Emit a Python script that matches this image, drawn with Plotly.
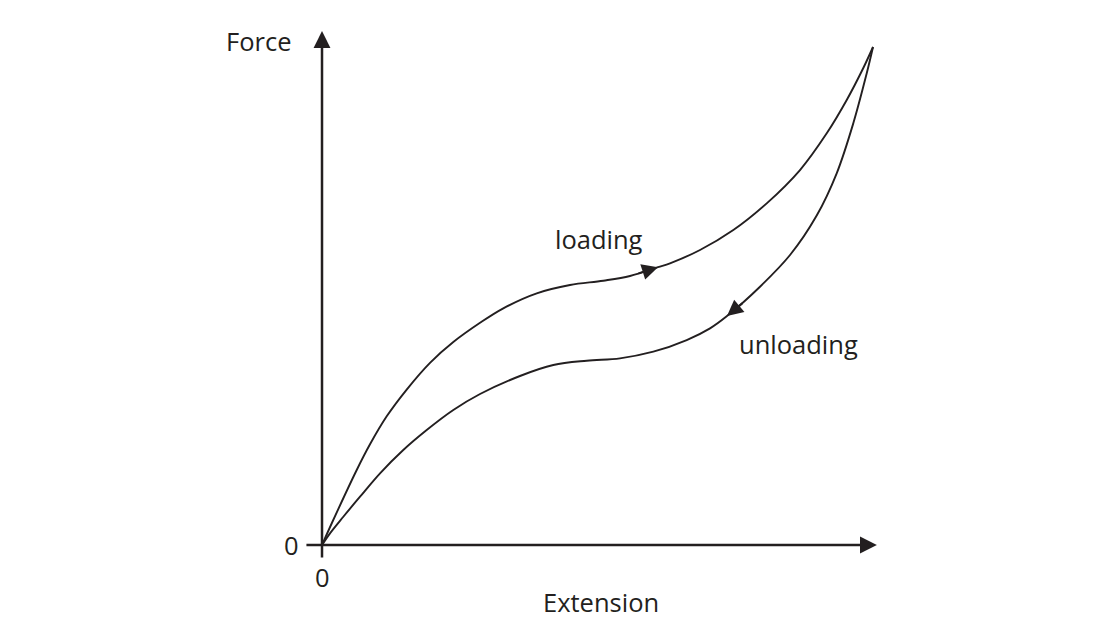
import plotly.graph_objects as go

# ---- data (Extension, Force in arbitrary units) ----
loading_x = [0.0, 0.20, 0.63, 0.871, 1.174, 1.537, 1.960, 2.383, 2.868, 3.290, 3.897, 4.501,
             5.105, 5.590, 6.098, 6.316, 6.860, 7.465, 8.071, 8.675, 9.160, 9.523, 9.824, 10.0]
loading_y = [0.0, 0.492, 1.506, 2.022, 2.584, 3.122, 3.659, 4.076, 4.462, 4.753, 5.054, 5.221,
             5.307, 5.402, 5.580, 5.657, 5.924, 6.325, 6.861, 7.530, 8.267, 8.936, 9.578, 10.0]

unloading_x = [10.0, 9.886, 9.642, 9.341, 8.978, 8.494, 7.949, 7.350, 7.042, 6.619, 6.013, 5.408,
               4.804, 4.198, 3.593, 2.868, 2.383, 1.900, 1.475, 1.053, 0.690, 0.387, 0.145, 0.0]
unloading_y = [10.0, 9.472, 8.468, 7.464, 6.616, 5.823, 5.187, 4.598, 4.351, 4.116, 3.882, 3.749,
               3.701, 3.614, 3.394, 3.032, 2.711, 2.309, 1.908, 1.440, 0.970, 0.568, 0.235, 0.0]

loading_arrow_idx = 14
unloading_arrow_idx = 7

x_tick_labels = ["0"]
y_tick_labels = ["0"]
x_title = "Extension"
y_title = "Force"
loading_label = "loading"
unloading_label = "unloading"

INK = "#231f20"
FONT = "Open Sans"

fig = go.Figure()

for xs, ys in ((loading_x, loading_y), (unloading_x, unloading_y)):
    fig.add_trace(go.Scatter(x=xs, y=ys, mode="lines",
                             line=dict(color=INK, width=1.9, shape="spline", smoothing=1.0),
                             hoverinfo="skip", showlegend=False))

# axes drawn as arrows
fig.add_annotation(x=10.07, y=0, ax=-0.31, ay=0, xref="x", yref="y", axref="x", ayref="y",
                   text="", showarrow=True, arrowhead=2, arrowsize=1.35, arrowwidth=2.5, arrowcolor=INK)
fig.add_annotation(x=0, y=10.32, ax=0, ay=-0.28, xref="x", yref="y", axref="x", ayref="y",
                   text="", showarrow=True, arrowhead=2, arrowsize=1.35, arrowwidth=2.5, arrowcolor=INK)

# direction arrows on the curves
fig.add_annotation(x=loading_x[loading_arrow_idx], y=loading_y[loading_arrow_idx],
                   ax=-21, ay=6.7, text="", showarrow=True, arrowhead=2,
                   arrowsize=1.6, arrowwidth=2, arrowcolor=INK)
fig.add_annotation(x=unloading_x[unloading_arrow_idx], y=unloading_y[unloading_arrow_idx],
                   ax=16.9, ay=-14.1, text="", showarrow=True, arrowhead=2,
                   arrowsize=1.6, arrowwidth=2, arrowcolor=INK)

txt = dict(family=FONT, size=25.5, color=INK)
fig.add_annotation(x=-0.53, y=10.12, text=y_title, showarrow=False, xanchor="right", yanchor="middle", font=txt)
fig.add_annotation(x=-0.55, y=0.0, text=y_tick_labels[0], showarrow=False, xanchor="center", yanchor="middle", font=txt)
fig.add_annotation(x=0.0, y=-0.64, text=x_tick_labels[0], showarrow=False, xanchor="center", yanchor="middle", font=txt)
fig.add_annotation(x=5.06, y=-1.15, text=x_title, showarrow=False, xanchor="center", yanchor="middle", font=txt)
fig.add_annotation(x=5.03, y=6.14, text=loading_label, showarrow=False, xanchor="center", yanchor="middle", font=txt)
fig.add_annotation(x=8.64, y=4.03, text=unloading_label, showarrow=False, xanchor="center", yanchor="middle", font=txt)

fig.update_xaxes(range=[-5.844, 14.301], visible=False, fixedrange=True)
fig.update_yaxes(range=[-1.867, 10.944], visible=False, fixedrange=True)
fig.update_layout(width=1110, height=638, margin=dict(l=0, r=0, t=0, b=0),
                  paper_bgcolor="white", plot_bgcolor="white", autosize=False)

fig.write_html("out.html", config={"displayModeBar": False},
               post_script="document.body.style.margin='0';document.body.style.overflow='hidden';")
